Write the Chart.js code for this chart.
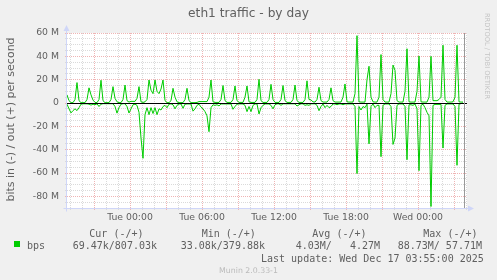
<!DOCTYPE html>
<html>
<head>
<meta charset="utf-8">
<script src="https://cdn.jsdelivr.net/npm/chart.js@4.4.1/dist/chart.umd.min.js"></script>
<style>
html, body { margin: 0; padding: 0; background: #f0f0f0; }
#graph { display: block; }
</style>
</head>
<body>
<canvas id="graph" width="497" height="280"></canvas>
<script>
// eth1 traffic, Mbit/s, one sample every 10 minutes from Mon 18:45
// (hours counted from Tue 00:00)
var startHour = -5.25;
var stepHour = 1 / 6;

var bpsOut = [
    7, 2, 0.3, 0.3, 3, 17.5, 2, 0.3, 0.3, 0.3, 3, 13, 7, 2.5, 0.5, 0.3, 3, 19.5,
    2, 0.3, 0.3, 0.3, 3, 14, 4, 1, 0.3, 0.3, 3, 15.4, 2, 0.8, 1.4, 1.4, 1.4, 4,
    14, 1, 0.5, 1, 3, 19.7, 11, 8, 19.7, 10, 8, 12, 19.7, 2, 0.3, 0.3, 2, 12.6,
    5, 1, 0.3, 0.3, 0.3, 3, 12.6, 2, 0.3, 0.3, 0.3, 0.5, 1.2, 1.2, 1.2, 1.2, 1.2, 5,
    19.7, 1, 0.5, 0.5, 0.5, 3, 15, 2, 0.5, 0.5, 0.5, 3, 14.6, 2, 0.5, 0.5, 0.5, 5,
    14.6, 1, 0.5, 0.5, 0.5, 3, 20.3, 2, 0.5, 0.5, 0.5, 3, 16, 3, 0.5, 0.5, 0.5, 3,
    15, 2, 0.5, 0.5, 0.5, 3, 15.4, 2, 0.5, 0.5, 0.5, 3, 19, 3, 2.6, 1, 0.8, 3,
    13.5, 2, 0.8, 0.8, 0.8, 3, 13, 2, 0.8, 0.8, 0.8, 0.8, 5, 16.3, 1, 0.8, 0.8, 0.8,
    8, 57.71, 1, 0.8, 0.8, 0.8, 20, 31.5, 5, 1, 0.8, 0.8, 5, 41.5, 3, 0.8, 0.8, 0.8,
    8, 32.5, 28, 2, 0.8, 0.8, 0.8, 10, 46.5, 1, 0.8, 0.8, 0.8, 10, 40.3, 1, 0.8, 0.8,
    0.8, 5, 40, 2, 2, 2, 3, 5, 49.5, 3, 0.8, 0.8, 0.8, 1, 5, 49.5, 1, 0.8,
    0.81
];
// incoming traffic, drawn below zero
var bpsIn = [
    1, 5, 8.5, 6.5, 5, 6.5, 4, 1, 0.7, 0.7, 0.7, 1, 1.8, 1, 1.5, 0.7, 3, 1,
    0.6, 0.6, 0.6, 0.6, 0.6, 0.6, 3, 8.7, 4, 1, 0.6, 0.6, 3, 8.6, 5, 1.5, 1, 2,
    8, 30, 47.4, 10, 4, 10, 4, 9, 4, 10, 5, 6, 3, 2, 4, 1, 0.7, 1.5,
    5, 2, 0.8, 0.8, 4.5, 1, 0.8, 0.8, 0.8, 7, 5, 2, 1, 3.5, 5, 7.4, 11, 24.6,
    4, 1.5, 2, 1.5, 2.5, 0.8, 0.8, 0.8, 0.8, 0.8, 0.8, 5.4, 3, 1, 0.8, 0.8, 0.8, 2,
    7.4, 3, 7.4, 2, 0.8, 0.8, 9.4, 4, 2, 0.8, 0.8, 0.8, 2, 5, 1.5, 0.7, 0.7, 2,
    0.7, 0.7, 0.7, 0.7, 0.7, 0.7, 0.7, 2.6, 1.5, 0.7, 0.7, 2, 1.5, 2, 0.7, 0.7, 0.7, 2,
    6.6, 3, 0.8, 4, 2, 4, 3, 0.8, 0.8, 1.5, 0.8, 0.8, 1.5, 0.8, 0.8, 0.8, 0.8, 0.8,
    3, 60.5, 3, 6, 3, 4, 1, 35, 3, 0.8, 4, 2, 2, 46, 2, 0.8, 0.8, 0.8,
    3, 35.5, 30, 2, 0.8, 0.8, 0.8, 3, 48.6, 1.5, 1.5, 2, 0.8, 5, 58, 2, 1, 4,
    8, 11, 88.73, 2, 1.2, 1.2, 1.2, 1.2, 38.6, 2, 0.8, 0.8, 0.8, 0.8, 3, 53.4, 1, 0.5,
    0.07
];

var xMin = -5.25, xMax = 28.083;
var yMin = -90, yMax = 60;
var xLabelHours = [0, 6, 12, 18, 24];
var xLabelText = ['Tue 00:00', 'Tue 06:00', 'Tue 12:00', 'Tue 18:00', 'Wed 00:00'];
var yLabelValues = [60, 40, 20, 0, -20, -40, -60, -80];
var yLabelText = ['60 M', '40 M', '20 M', '0', '-20 M', '-40 M', '-60 M', '-80 M'];
var lastUpdateHour = 27.87;

var legendHead = ['Cur (-/+)', 'Min (-/+)', 'Avg (-/+)', 'Max (-/+)'];
var legendVals = ['69.47k/807.03k', '33.08k/379.88k', '4.03M/   4.27M', '88.73M/ 57.71M'];

var green = '#00cc00';
var fontColor = '#606060';
var majorGrid = '#efb4b4';
var minorGrid = '#dadada';
var axisColor = '#cfd6f8';

var hourTicks = [];
for (var h = Math.ceil(xMin); h <= xMax; h++) hourTicks.push(h);
var yGridValues = [];
for (var v = yMin; v <= yMax; v += 5) yGridValues.push(v);

function toPoints(list, sign) {
    return list.map(function(val, i) {
        return { x: startHour + i * stepHour, y: sign * val };
    });
}

var muninDecor = {
    id: 'muninDecor',
    beforeDraw: function(chart) {
        var c = chart.ctx, a = chart.chartArea;
        c.save();
        c.fillStyle = '#f0f0f0';
        c.fillRect(0, 0, chart.width, chart.height);
        c.fillStyle = '#ffffff';
        c.fillRect(a.left, a.top, a.right - a.left, a.bottom - a.top);
        c.restore();
    },
    afterDatasetsDraw: function(chart) {
        var c = chart.ctx, a = chart.chartArea;
        var y0 = Math.round(chart.scales.y.getPixelForValue(0)) + 0.5;
        var xr = Math.round(chart.scales.x.getPixelForValue(lastUpdateHour)) + 0.5;
        c.save();
        c.lineWidth = 1;
        c.strokeStyle = '#000000';
        c.beginPath();
        c.moveTo(a.left, y0);
        c.lineTo(a.right, y0);
        c.stroke();
        c.strokeStyle = '#999999';
        c.beginPath();
        c.moveTo(xr, a.top);
        c.lineTo(xr, a.bottom);
        c.stroke();
        c.restore();
    },
    afterDraw: function(chart) {
        var c = chart.ctx, a = chart.chartArea;
        var ax = a.left - 0.5, ay = a.bottom + 0.5;
        c.save();
        // axes with arrows
        c.strokeStyle = axisColor;
        c.fillStyle = axisColor;
        c.lineWidth = 1;
        c.beginPath();
        c.moveTo(ax, ay + 3);
        c.lineTo(ax, a.top - 3);
        c.moveTo(ax - 3, ay);
        c.lineTo(a.right + 3, ay);
        c.stroke();
        c.beginPath();
        c.moveTo(ax, a.top - 8);
        c.lineTo(ax - 3, a.top - 2);
        c.lineTo(ax + 3, a.top - 2);
        c.closePath();
        c.fill();
        c.beginPath();
        c.moveTo(a.right + 7, ay);
        c.lineTo(a.right + 1, ay - 3);
        c.lineTo(a.right + 1, ay + 3);
        c.closePath();
        c.fill();

        // title
        c.fillStyle = fontColor;
        c.font = '12.2px "DejaVu Sans"';
        c.textAlign = 'center';
        c.textBaseline = 'alphabetic';
        c.fillText('eth1 traffic - by day', 248.5, 16.5);

        // vertical unit label
        c.save();
        c.translate(13.5, 119.5);
        c.rotate(-Math.PI / 2);
        c.font = '11px "DejaVu Sans"';
        c.fillText('bits in (-) / out (+) per second', 0, 0);
        c.restore();

        // watermark
        c.save();
        c.translate(485, 56);
        c.rotate(Math.PI / 2);
        c.fillStyle = '#c4c4c4';
        c.font = '6.7px "DejaVu Sans"';
        c.fillText('RRDTOOL / TOBI OETIKER', 0, 0);
        c.restore();

        // legend
        c.textAlign = 'left';
        c.font = '10px "DejaVu Sans Mono"';
        var headX = [89.3, 201.7, 312.3, 423.3];
        var valX = [72.7, 180.7, 295.7, 397.7];
        for (var i = 0; i < legendHead.length; i++) {
            c.fillText(legendHead[i], headX[i], 237);
            c.fillText(legendVals[i], valX[i], 249);
        }
        c.fillText('bps', 27, 249);
        c.fillText('Last update: Wed Dec 17 03:55:00 2025', 261, 261.5);
        c.fillStyle = green;
        c.fillRect(14, 241, 6, 6);

        c.fillStyle = '#bbbbbb';
        c.font = '7.8px "DejaVu Sans"';
        c.textAlign = 'center';
        c.fillText('Munin 2.0.33-1', 248.5, 272.5);
        c.restore();
    }
};

var ctx = document.getElementById('graph');
var chart = new Chart(ctx, {
    type: 'line',
    data: {
        datasets: [{
            label: 'bps in',
            data: toPoints(bpsIn, -1),
            borderColor: green,
            borderWidth: 1,
            pointRadius: 0,
            tension: 0,
            fill: false
        }, {
            label: 'bps out',
            data: toPoints(bpsOut, 1),
            borderColor: green,
            borderWidth: 1,
            pointRadius: 0,
            tension: 0,
            fill: false
        }]
    },
    options: {
        responsive: false,
        animation: false,
        devicePixelRatio: 1,
        layout: { padding: { top: 33, right: 30, bottom: 60, left: 0 } },
        plugins: {
            legend: { display: false },
            title: { display: false },
            tooltip: { enabled: false }
        },
        scales: {
            x: {
                type: 'linear',
                min: xMin,
                max: xMax,
                afterFit: function(s) { s.height = 12; },
                afterBuildTicks: function(s) {
                    s.ticks = hourTicks.map(function(h) { return { value: h }; });
                },
                grid: {
                    color: function(c) {
                        return c.tick && c.tick.value % 3 === 0 ? majorGrid : minorGrid;
                    },
                    lineWidth: 1,
                    tickLength: 2
                },
                border: { display: false, dash: [1, 1] },
                ticks: {
                    autoSkip: false,
                    maxRotation: 0,
                    minRotation: 0,
                    padding: 2,
                    color: fontColor,
                    font: { family: 'DejaVu Sans', size: 9.3 },
                    callback: function(val) {
                        var k = xLabelHours.indexOf(val);
                        return k < 0 ? '' : xLabelText[k];
                    }
                }
            },
            y: {
                min: yMin,
                max: yMax,
                afterFit: function(s) { s.width = 67; },
                afterBuildTicks: function(s) {
                    s.ticks = yGridValues.map(function(v) { return { value: v }; });
                },
                grid: {
                    color: function(c) {
                        return c.tick && c.tick.value % 20 === 0 ? majorGrid : minorGrid;
                    },
                    lineWidth: 1,
                    tickLength: 2
                },
                border: { display: false, dash: [1, 1] },
                ticks: {
                    autoSkip: false,
                    padding: 6,
                    color: fontColor,
                    font: { family: 'DejaVu Sans', size: 9.3 },
                    callback: function(val) {
                        var k = yLabelValues.indexOf(val);
                        return k < 0 ? '' : yLabelText[k];
                    }
                }
            }
        }
    },
    plugins: [muninDecor]
});
</script>
</body>
</html>
